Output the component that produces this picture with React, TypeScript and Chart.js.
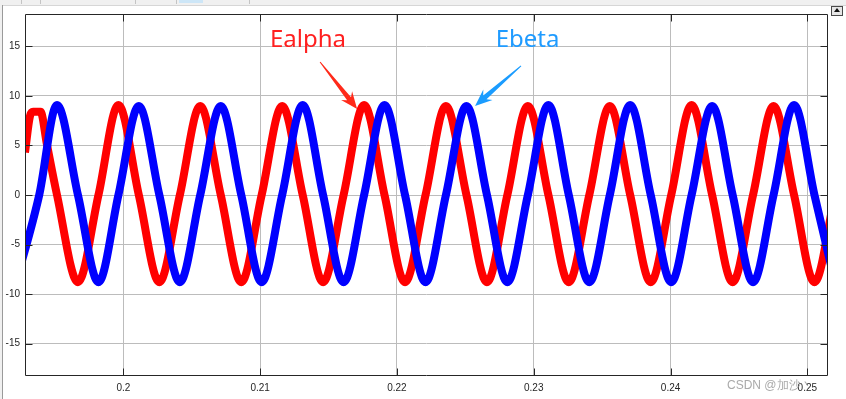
import React, { useEffect, useRef } from "react";
import { Chart, registerables } from "chart.js";

Chart.register(...registerables);

// ---- axes ----
const X_MIN = 0.19281;
const X_MAX = 0.25151;
const Y_MIN = -18.28;
const Y_MAX = 18.28;
const xTicks = [0.2, 0.21, 0.22, 0.23, 0.24, 0.25];
const xTickLabels = ["0.2", "0.21", "0.22", "0.23", "0.24", "0.25"];
const yTicks = [-15, -10, -5, 0, 5, 10, 15];
const yTickLabels = ["-15", "-10", "-5", "0", "5", "10", "15"];

// ---- Ealpha (red) key points ----
const redStartT = [0.19281, 0.19318, 0.1934, 0.19395, 0.1944];
const redStartV = [4.3, 8.0, 8.4, 8.4, 5.2];
const redPeakT = [0.19964, 0.20562, 0.21161, 0.2176, 0.22358, 0.22957, 0.23556, 0.24154, 0.24753];
const redPeakV = [9.1, 9.0, 9.0, 9.1, 9.0, 9.0, 9.0, 9.1, 9.0];
const redTroughT = [0.19668, 0.20263, 0.20862, 0.2146, 0.22059, 0.22658, 0.23256, 0.23855, 0.24454, 0.25052];
const redTroughV = [-8.8, -8.8, -8.8, -8.8, -8.8, -8.8, -8.8, -8.8, -8.8, -8.8];
const redZeroT = [
  0.19515, 0.19818, 0.20113, 0.20413, 0.20712, 0.21011, 0.21311, 0.2161, 0.21909, 0.22209,
  0.22508, 0.22807, 0.23107, 0.23406, 0.23705, 0.24005, 0.24304, 0.24603, 0.24903, 0.25202,
];

// ---- Ebeta (blue) key points ----
const bluePeakT = [0.19515, 0.20113, 0.20712, 0.21311, 0.21909, 0.22508, 0.23107, 0.23705, 0.24304, 0.24903];
const bluePeakV = [9.1, 9.0, 9.0, 9.1, 9.1, 9.0, 9.1, 9.1, 9.0, 9.1];
const blueTroughT = [0.19216, 0.19818, 0.20413, 0.21011, 0.2161, 0.22209, 0.22807, 0.23406, 0.24005, 0.24603, 0.25202];
const blueTroughV = [-8.8, -8.8, -8.8, -8.8, -8.8, -8.8, -8.8, -8.8, -8.8, -8.8, -8.8];
const blueZeroT = [
  0.19385, 0.19668, 0.19964, 0.20263, 0.20562, 0.20862, 0.21161, 0.2146, 0.2176, 0.22059,
  0.22358, 0.22658, 0.22957, 0.23256, 0.23556, 0.23855, 0.24154, 0.24454, 0.24753, 0.25052,
];

// ---- annotations (data coordinates) ----
const labelTexts = ["Ealpha", "Ebeta"];
const labelX = [0.21072, 0.22722];
const labelY = [14.95, 14.95];
const labelColors = ["#ff1f1f", "#1f9bff"];
const arrowFromX = [0.21438, 0.22907];
const arrowFromY = [13.43, 13.03];
const arrowToX = [0.21709, 0.22571];
const arrowToY = [8.69, 8.99];
const arrowColors = ["#ff2a1a", "#1a9cff"];

type P = { x: number; y: number };
function buildSeries(groups: Array<[number[], number[] | null]>): P[] {
  const pts: P[] = [];
  for (const [ts, vs] of groups) {
    ts.forEach((t, i) => pts.push({ x: t, y: vs ? vs[i] : 0 }));
  }
  pts.sort((a, b) => a.x - b.x);
  return pts;
}

function drawArrow(ctx: CanvasRenderingContext2D, x0: number, y0: number, x1: number, y1: number, color: string) {
  const dx = x1 - x0;
  const dy = y1 - y0;
  const len = Math.hypot(dx, dy);
  const ux = dx / len;
  const uy = dy / len;
  const px = -uy;
  const py = ux;
  const headLen = 17;
  const headW = 14;
  const w0 = 1;
  const w1 = 5;
  const bx = x1 - ux * headLen;
  const by = y1 - uy * headLen;
  const nx = bx + ux * 4;
  const ny = by + uy * 4;
  ctx.save();
  ctx.fillStyle = color;
  ctx.beginPath();
  ctx.moveTo(x0 + (px * w0) / 2, y0 + (py * w0) / 2);
  ctx.lineTo(nx + (px * w1) / 2, ny + (py * w1) / 2);
  ctx.lineTo(bx + (px * headW) / 2, by + (py * headW) / 2);
  ctx.lineTo(x1, y1);
  ctx.lineTo(bx - (px * headW) / 2, by - (py * headW) / 2);
  ctx.lineTo(nx - (px * w1) / 2, ny - (py * w1) / 2);
  ctx.lineTo(x0 - (px * w0) / 2, y0 - (py * w0) / 2);
  ctx.closePath();
  ctx.fill();
  ctx.restore();
}

const framePlugin = {
  id: "matlabFrame",
  afterDatasetsDraw(chart: any) {
    const { ctx, chartArea } = chart;
    const xs = chart.scales.x;
    const ys = chart.scales.y;
    const L = Math.round(chartArea.left) + 0.5;
    const R = Math.round(chartArea.right) - 0.5;
    const T = Math.round(chartArea.top) + 0.5;
    const B = Math.round(chartArea.bottom) - 0.5;
    ctx.save();
    ctx.strokeStyle = "#262626";
    ctx.lineWidth = 1;
    ctx.beginPath();
    ctx.rect(L, T, R - L, B - T);
    const tl = 7;
    xTicks.forEach((v) => {
      const x = Math.round(xs.getPixelForValue(v)) + 0.5;
      ctx.moveTo(x, B);
      ctx.lineTo(x, B - tl);
      ctx.moveTo(x, T);
      ctx.lineTo(x, T + tl);
    });
    yTicks.forEach((v) => {
      const y = Math.round(ys.getPixelForValue(v)) + 0.5;
      ctx.moveTo(L, y);
      ctx.lineTo(L + tl, y);
      ctx.moveTo(R, y);
      ctx.lineTo(R - tl, y);
    });
    ctx.stroke();
    ctx.restore();
  },
  afterDraw(chart: any) {
    const { ctx } = chart;
    const xs = chart.scales.x;
    const ys = chart.scales.y;
    ctx.save();
    labelTexts.forEach((txt, i) => {
      ctx.font = '24px "Noto Sans", sans-serif';
      ctx.fillStyle = labelColors[i];
      ctx.textAlign = "left";
      ctx.textBaseline = "alphabetic";
      ctx.fillText(txt, xs.getPixelForValue(labelX[i]), ys.getPixelForValue(labelY[i]));
      drawArrow(
        ctx,
        xs.getPixelForValue(arrowFromX[i]),
        ys.getPixelForValue(arrowFromY[i]),
        xs.getPixelForValue(arrowToX[i]),
        ys.getPixelForValue(arrowToY[i]),
        arrowColors[i]
      );
    });
    ctx.font = '12px "Liberation Sans", Arial, sans-serif';
    ctx.fillStyle = "rgba(140,140,140,0.75)";
    ctx.textAlign = "left";
    ctx.fillText("CSDN @加沙丶", 727, 389);
    ctx.restore();
  },
};

export default function App() {
  const canvasRef = useRef<HTMLCanvasElement | null>(null);

  useEffect(() => {
    const canvas = canvasRef.current;
    if (!canvas) return;
    const redData = buildSeries([
      [redStartT, redStartV],
      [redPeakT, redPeakV],
      [redTroughT, redTroughV],
      [redZeroT, null],
    ]);
    const blueData = buildSeries([
      [bluePeakT, bluePeakV],
      [blueTroughT, blueTroughV],
      [blueZeroT, null],
    ]);
    const tickFont = { family: '"Liberation Sans", Arial, sans-serif', size: 10 };
    const chart = new Chart(canvas, {
      type: "line",
      data: {
        datasets: [
          {
            label: "Ebeta",
            data: blueData,
            borderColor: "#0000ff",
            borderWidth: 8,
            pointRadius: 0,
            cubicInterpolationMode: "monotone",
            fill: false,
            order: 0,
          },
          {
            label: "Ealpha",
            data: redData,
            borderColor: "#ff0000",
            borderWidth: 8,
            pointRadius: 0,
            cubicInterpolationMode: "monotone",
            fill: false,
            order: 1,
          },
        ],
      },
      options: {
        animation: false,
        responsive: false,
        maintainAspectRatio: false,
        events: [],
        layout: { padding: { left: 0, top: 14, right: 18, bottom: 0 } },
        plugins: { legend: { display: false }, tooltip: { enabled: false } },
        scales: {
          x: {
            type: "linear",
            min: X_MIN,
            max: X_MAX,
            afterBuildTicks: (s: any) => {
              s.ticks = xTicks.map((v) => ({ value: v }));
            },
            afterFit: (s: any) => {
              s.height = 23;
            },
            ticks: {
              autoSkip: false,
              maxRotation: 0,
              padding: 6,
              color: "#262626",
              font: tickFont,
              callback: (v: any) => {
                const i = xTicks.findIndex((t) => Math.abs(t - v) < 1e-9);
                return i >= 0 ? xTickLabels[i] : "";
              },
            },
            grid: { color: "#bcbcbc", lineWidth: 1, drawTicks: false },
            border: { display: false },
          },
          y: {
            type: "linear",
            min: Y_MIN,
            max: Y_MAX,
            afterBuildTicks: (s: any) => {
              s.ticks = yTicks.map((v) => ({ value: v }));
            },
            afterFit: (s: any) => {
              s.width = 25;
            },
            ticks: {
              autoSkip: false,
              padding: 5,
              color: "#262626",
              font: tickFont,
              callback: (v: any) => {
                const i = yTicks.findIndex((t) => Math.abs(t - v) < 1e-9);
                return i >= 0 ? yTickLabels[i] : "";
              },
            },
            grid: { color: "#bcbcbc", lineWidth: 1, drawTicks: false },
            border: { display: false },
          },
        },
      },
      plugins: [framePlugin],
    } as any);
    return () => chart.destroy();
  }, []);

  const sep = (x: number) => (
    <div key={x} style={{ position: "absolute", left: x, top: 0, width: 1, height: 4, background: "#c4c4c4" }} />
  );

  return (
    <div style={{ position: "fixed", left: 0, top: 0, width: 846, height: 399, background: "#ffffff", overflow: "hidden" }}>
      <div style={{ position: "absolute", left: 0, top: 0, width: 846, height: 5, background: "#f0f0f0", borderBottom: "1px solid #d6d6d6" }} />
      {[21, 40, 135, 176, 249].map(sep)}
      <div style={{ position: "absolute", left: 179, top: 0, width: 24, height: 3, background: "#cde6f7" }} />
      <div style={{ position: "absolute", left: 0, top: 5, width: 2, height: 394, background: "#f0f0f0" }} />
      <div style={{ position: "absolute", left: 2, top: 5, width: 1, height: 394, background: "#9a9a9a" }} />
      <div
        style={{
          position: "absolute",
          left: 831,
          top: 6,
          width: 10,
          height: 8,
          border: "1px solid #4a4a4a",
          background: "#e6e6e6",
        }}
      >
        <div
          style={{
            position: "absolute",
            left: 2,
            top: 1,
            width: 0,
            height: 0,
            borderLeft: "3px solid transparent",
            borderRight: "3px solid transparent",
            borderBottom: "4px solid #111",
          }}
        />
      </div>
      <canvas ref={canvasRef} width={846} height={399} style={{ position: "absolute", left: 0, top: 0, width: 846, height: 399 }} />
    </div>
  );
}
